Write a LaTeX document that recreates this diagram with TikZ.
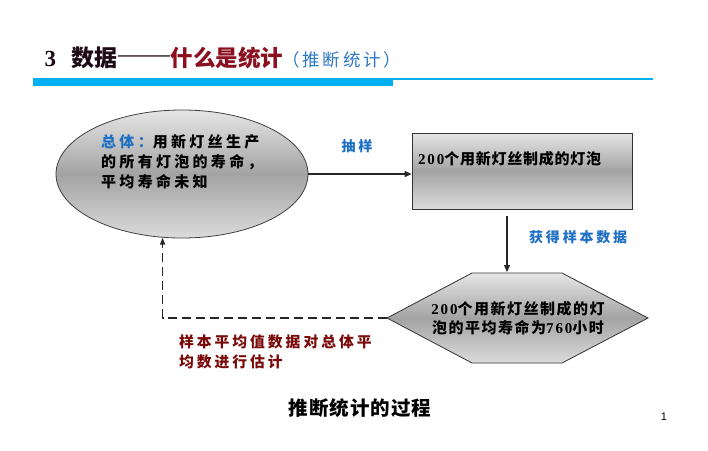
\documentclass[tikz,border=0pt]{standalone}
\usepackage{fontspec}
\setmainfont{Noto Sans CJK SC}
\newfontfamily\cjksp[LetterSpace=22]{Noto Sans CJK SC}
\newfontfamily\cjklab[LetterSpace=20]{Noto Sans CJK SC}
\newfontfamily\cjkmid[LetterSpace=5]{Noto Sans CJK SC}
\newfontfamily\cjkhex[LetterSpace=10]{Noto Sans CJK SC}
\newfontfamily\cjkpar[LetterSpace=16]{Noto Sans CJK SC}
\newfontfamily\tnr[LetterSpace=12]{Liberation Serif}
\newfontfamily\tnrtitle{Liberation Serif}
\newfontfamily\pgnum{Liberation Sans}
\usetikzlibrary{shapes.geometric,arrows.meta}
\definecolor{barblue}{HTML}{00B0F0}
\definecolor{lblue}{HTML}{1F6FC4}
\definecolor{tblue}{HTML}{2E78C8}
\definecolor{maroon}{HTML}{8A1020}
\definecolor{darkred}{HTML}{7A0A0A}
\definecolor{titledark}{HTML}{1E0A16}
\tikzset{
  gshade/.style={top color=black!10, bottom color=black!14, middle color=black!36},
  popell/.style={ellipse, draw=black!75, line width=0.8pt, gshade,
    minimum width=252pt, minimum height=128pt, inner sep=0pt},
  samplebox/.style={rectangle, draw=black!80, line width=0.8pt, gshade,
    minimum width=220pt, minimum height=76pt, inner sep=0pt},
  hexshape/.style={draw=black!80, line width=0.8pt, gshade},
  bodytext/.style={inner sep=0pt, font=\bfseries\cjksp\fontsize{15}{20}\selectfont, align=left},
  boxtext/.style={inner sep=0pt, font=\bfseries\cjkmid\fontsize{15}{19}\selectfont, align=center},
  hextext/.style={inner sep=0pt, font=\bfseries\cjkhex\fontsize{15}{19}\selectfont, align=center},
  bluelabel/.style={inner sep=0pt, text=lblue, font=\bfseries\cjklab\fontsize{14}{18}\selectfont},
  redlabel/.style={inner sep=0pt, text=darkred, align=left, font=\bfseries\cjklab\fontsize{14.8}{20}\selectfont},
  arr/.style={draw=black!85, line width=1.2pt, -{Triangle[length=7pt,width=6pt]}},
  dasharr/.style={draw=black!85, line width=1.3pt, dash pattern=on 9pt off 5pt, -{Triangle[length=7pt,width=5pt]}},
}
\begin{document}
\begin{tikzpicture}[x=1pt,y=-1pt]
\useasboundingbox[fill=white] (0,0) rectangle (708,450);

% title
\node[anchor=west, inner sep=0pt, text=titledark, font=\bfseries\fontsize{23}{23}\selectfont] (t1) at (44.5,58) {{\tnrtitle 3}\hspace{15.5pt}数据};
\node[anchor=west, inner sep=0pt, text=titledark, font=\tnrtitle\fontsize{26}{26}\selectfont] (t2) at ([yshift=-1pt]t1.east) {——};
\node[anchor=west, inner sep=0pt, text=maroon, font=\bfseries\fontsize{22.5}{23}\selectfont] (t3) at (t1.east -| t2.east) {什么是统计};
\node[anchor=west, inner sep=0pt, text=tblue, font=\cjkpar\fontsize{17.5}{17.5}\selectfont] (t4) at ([xshift=-1pt,yshift=-1.5pt]t3.east) {（推断统计）};

% bars
\fill[barblue] (33,78) rectangle (393,85.5);
\fill[barblue] (393,78) rectangle (653,79.8);

% population ellipse
\node[popell] (pop) at (182,174) {};
\node[bodytext, anchor=north west] (poptext) at (101,134) {{\color{lblue}总体：}用新灯丝生产\\的所有灯泡的寿命，\\平均寿命未知};

% sample rectangle
\node[samplebox] (sample) at (522,171) {};
\node[boxtext, anchor=west] (sampletext) at (418,159) {{\tnr 200}个用新灯丝制成的灯泡};

% hexagon
\coordinate (h1) at (472,273);
\coordinate (h2) at (562,273);
\coordinate (h3) at (648,318);
\coordinate (h4) at (562,363);
\coordinate (h5) at (472,363);
\coordinate (h6) at (387,318);
\path[hexshape] (h1) -- (h2) -- (h3) -- (h4) -- (h5) -- (h6) -- cycle;
\node[hextext] (hexlabel) at (518,318.5) {{\tnr 200}个用新灯丝制成的灯\\泡的平均寿命为{\tnr 760}小时};

% connectors
\draw[arr] (pop.east) -- (pop.east -| sample.west);
\coordinate (vs) at (507,216);
\coordinate (ve) at (507,272);
\draw[arr] (vs) -- (ve);
\draw[dasharr] (h6) -- (h6 -| pop.253.5) -- (pop.253.5);

% labels
\node[bluelabel] (l1) at (357,146) {抽样};
\node[bluelabel, anchor=west] (l2) at (529,237) {获得样本数据};
\node[redlabel, anchor=north west] (l3) at (179,335) {样本平均值数据对总体平\\均数进行估计};

% caption
\node[inner sep=0pt, font=\bfseries\cjkmid\fontsize{19.5}{20}\selectfont] (cap) at (360,408) {推断统计的过程};
\node[inner sep=0pt, font=\pgnum\fontsize{11}{11}\selectfont] (pg) at (664,417) {1};
\end{tikzpicture}
\end{document}
